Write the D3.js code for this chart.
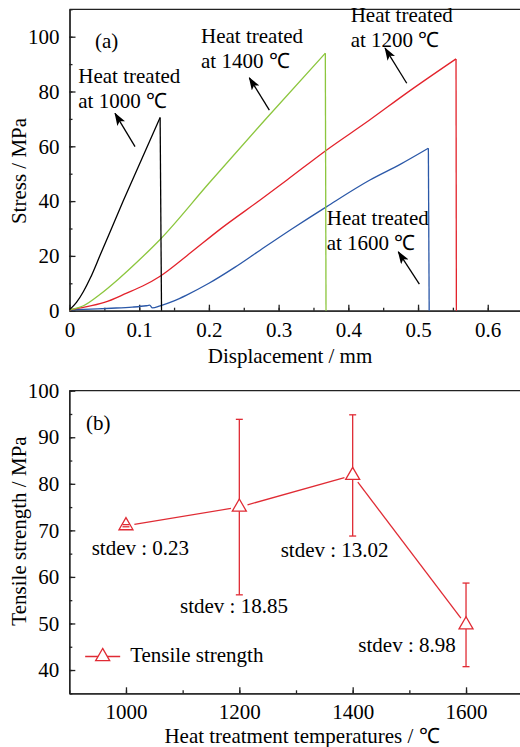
<!DOCTYPE html>
<meta charset="utf-8">
<style>
body { margin: 0; background: #fff; }
svg { display: block; font-family: "Liberation Serif", "Times New Roman", serif; }
.axis path, .axis line { stroke: #222; stroke-width: 1.3; }
.axis text { font-size: 21px; fill: #000; font-family: "Liberation Serif", "Times New Roman", serif; }
.lbl { font-size: 21px; fill: #000; }
</style>
<svg width="520" height="747"></svg>
<script src="https://d3js.org/d3.v7.min.js"></script>
<script>

// (a) stress - displacement curves
var disp1000 = [0, 0.01, 0.02, 0.03, 0.044, 0.077, 0.13],
    stress1000 = [0.3, 3, 7, 12, 20.3, 40, 70.5],
    drop1000 = 0.132;

var disp1400 = [0, 0.02, 0.044, 0.07, 0.1, 0.13, 0.2, 0.28, 0.367],
    stress1400 = [0.3, 1.8, 6, 11.5, 18.5, 26, 46.5, 69.5, 94],
    drop1400 = 0.368;

var disp1200 = [0, 0.02, 0.05, 0.082, 0.105, 0.13, 0.168, 0.22, 0.273, 0.312, 0.368, 0.43, 0.484, 0.5545],
    stress1200 = [0.3, 1.2, 3, 6.4, 9, 12.6, 20, 30.5, 40.3, 47.7, 58.5, 69.5, 79.5, 91.9],
    drop1200 = 0.555;

var disp1600 = [0, 0.03, 0.06, 0.09, 0.11, 0.115, 0.119, 0.13, 0.15, 0.168, 0.2, 0.237, 0.273, 0.32, 0.369, 0.431, 0.475, 0.5148],
    stress1600 = [0.3, 0.6, 0.9, 1.3, 1.8, 2.0, 1.0, 1.8, 3.6, 5.7, 10, 15.8, 22, 30, 38, 47.7, 53.5, 59.3],
    drop1600 = 0.516;

// (b) tensile strength
var temps = [1000, 1200, 1400, 1600],
    strength = [71.0, 75.0, 81.8, 49.7],
    stdev = [0.23, 18.85, 13.02, 8.98];

var xTicksA = [0, 0.1, 0.2, 0.3, 0.4, 0.5, 0.6],
    yTicksA = [0, 20, 40, 60, 80, 100],
    xTicksB = [1000, 1200, 1400, 1600],
    yTicksB = [40, 50, 60, 70, 80, 90, 100];

var svg = d3.select("svg");

var xA = d3.scaleLinear().domain([0, 0.65]).range([69.5, 522.6]),
    yA = d3.scaleLinear().domain([0, 110]).range([310.7, 9.3]);

var xB = d3.scaleLinear().domain([900, 1700]).range([69.3, 522.7]),
    yB = d3.scaleLinear().domain([35, 100]).range([693.3, 390.7]);

svg.append("defs").append("marker")
    .attr("id", "arrow")
    .attr("markerUnits", "userSpaceOnUse")
    .attr("markerWidth", 13).attr("markerHeight", 9)
    .attr("refX", 12).attr("refY", 4.5)
    .attr("orient", "auto")
  .append("path")
    .attr("d", "M0,0L13,4.5L0,9L3,4.5Z")
    .attr("fill", "#000");

function axes(x, y, xt, xm, yt, ym) {
  var x0 = x.range()[0], x1 = x.range()[1], y0 = y.range()[0], y1 = y.range()[1];
  svg.append("g").attr("class", "axis").attr("transform", "translate(0," + y0 + ")")
      .call(d3.axisBottom(x).tickValues(xm).tickSize(-3).tickSizeOuter(0).tickFormat(""));
  svg.append("g").attr("class", "axis").attr("transform", "translate(0," + y0 + ")")
      .call(d3.axisBottom(x).tickValues(xt).tickSize(-6).tickSizeOuter(0).tickPadding(11).tickFormat(function(d) { return d; }));
  svg.append("g").attr("class", "axis").attr("transform", "translate(" + x0 + ",0)")
      .call(d3.axisLeft(y).tickValues(ym).tickSize(-3).tickSizeOuter(0).tickFormat(""));
  svg.append("g").attr("class", "axis").attr("transform", "translate(" + x0 + ",0)")
      .call(d3.axisLeft(y).tickValues(yt).tickSize(-6).tickSizeOuter(0).tickPadding(10));
  svg.append("line")
      .attr("x1", x0).attr("x2", x1).attr("y1", y1).attr("y2", y1)
      .attr("stroke", "#222").attr("stroke-width", 1.3);
}

axes(xA, yA, xTicksA, d3.range(0, 0.651, 0.05), yTicksA, d3.range(0, 111, 10));
axes(xB, yB, xTicksB, d3.range(900, 1701, 100), yTicksB, d3.range(35, 101, 5));

// curves of panel (a)
var curve = d3.line()
    .x(function(d) { return xA(d[0]); })
    .y(function(d) { return yA(d[1]); })
    .curve(d3.curveMonotoneX);

var straight = d3.line()
    .x(function(d) { return xA(d[0]); })
    .y(function(d) { return yA(d[1]); });

var series = [
  {x: disp1600, y: stress1600, drop: drop1600, color: "#2b58a8"},
  {x: disp1200, y: stress1200, drop: drop1200, color: "#e3232c"},
  {x: disp1400, y: stress1400, drop: drop1400, color: "#8cc63e"},
  {x: disp1000, y: stress1000, drop: drop1000, color: "#000000"}
];

series.forEach(function(s) {
  var pts = d3.zip(s.x, s.y),
      last = pts[pts.length - 1];
  svg.append("path")
      .attr("d", curve(pts))
      .attr("fill", "none").attr("stroke", s.color).attr("stroke-width", 1.3);
  svg.append("path")
      .attr("d", straight([last, [s.drop, 0]]))
      .attr("fill", "none").attr("stroke", s.color).attr("stroke-width", 1.3);
});

var notesA = [
  {text: ["Heat treated", "at 1000 \u2103"], at: [0.0126, 83.0], tail: [0.094, 59.9], head: [0.0653, 72.0]},
  {text: ["Heat treated", "at 1400 \u2103"], at: [0.1887, 97.6], tail: [0.2867, 73.2], head: [0.258, 85.0]},
  {text: ["Heat treated", "at 1200 \u2103"], at: [0.4034, 105.5], tail: [0.4838, 83.0], head: [0.4527, 95.8]},
  {text: ["Heat treated", "at 1600 \u2103"], at: [0.369, 31.3], tail: [0.5019, 9.7], head: [0.4717, 21.5]}
];

notesA.forEach(function(n) {
  n.text.forEach(function(t, i) {
    svg.append("text").attr("class", "lbl")
        .attr("x", xA(n.at[0])).attr("y", yA(n.at[1]) + i * 25)
        .text(t);
  });
  svg.append("line")
      .attr("x1", xA(n.tail[0])).attr("y1", yA(n.tail[1]))
      .attr("x2", xA(n.head[0])).attr("y2", yA(n.head[1]))
      .attr("stroke", "#000").attr("stroke-width", 1.3)
      .attr("marker-end", "url(#arrow)");
});

svg.append("text").attr("class", "lbl").attr("x", xA(0.0366)).attr("y", yA(95.9)).text("(a)");

svg.append("text").attr("class", "lbl")
    .attr("x", 290).attr("y", 363)
    .attr("text-anchor", "middle")
    .text("Displacement / mm");

svg.append("text").attr("class", "lbl")
    .attr("transform", "translate(26,171)rotate(-90)")
    .attr("text-anchor", "middle")
    .text("Stress / MPa");

// panel (b)
var red = "#e02b34";
var pts = temps.map(function(t, i) { return [xB(t), yB(strength[i])]; });

// connecting segments stop short of the markers
for (var i = 0; i < pts.length - 1; i++) {
  var a = pts[i], b = pts[i + 1],
      dx = b[0] - a[0], dy = b[1] - a[1],
      len = Math.sqrt(dx * dx + dy * dy), gap = 8.5;
  svg.append("line")
      .attr("x1", a[0] + dx / len * gap).attr("y1", a[1] + dy / len * gap)
      .attr("x2", b[0] - dx / len * gap).attr("y2", b[1] - dy / len * gap)
      .attr("stroke", red).attr("stroke-width", 1.3);
}

temps.forEach(function(t, i) {
  svg.append("line")
      .attr("x1", xB(t)).attr("x2", xB(t))
      .attr("y1", yB(strength[i] - stdev[i])).attr("y2", yB(strength[i] + stdev[i]))
      .attr("stroke", red).attr("stroke-width", 1.3);
});

var tri = d3.symbol(d3.symbolTriangle, 85);

svg.selectAll(".mk").data(pts).enter().append("path")
    .attr("class", "mk")
    .attr("d", tri)
    .attr("transform", function(d) { return "translate(" + d[0] + "," + d[1] + ")"; })
    .attr("fill", "#fff").attr("stroke", red).attr("stroke-width", 1.3);

temps.forEach(function(t, i) {
  [strength[i] - stdev[i], strength[i] + stdev[i]].forEach(function(v) {
    svg.append("line")
        .attr("x1", xB(t) - 3.5).attr("x2", xB(t) + 3.5)
        .attr("y1", yB(v)).attr("y2", yB(v))
        .attr("stroke", red).attr("stroke-width", 1.3);
  });
});

var notesB = [
  {text: "stdev : 0.23", at: [939.5, 64.7]},
  {text: "stdev : 18.85", at: [1095.3, 52.2]},
  {text: "stdev : 13.02", at: [1273, 64.3]},
  {text: "stdev : 8.98", at: [1410, 43.9]}
];

notesB.forEach(function(n) {
  svg.append("text").attr("class", "lbl")
      .attr("x", xB(n.at[0])).attr("y", yB(n.at[1]))
      .text(n.text);
});

svg.append("text").attr("class", "lbl").attr("x", xB(929.5)).attr("y", yB(91.55)).text("(b)");

// legend
var lg = svg.append("g").attr("transform", "translate(" + xB(928) + "," + yB(42.9) + ")");
lg.append("line").attr("x1", 0).attr("x2", 35).attr("stroke", red).attr("stroke-width", 1.3);
lg.append("path").attr("d", tri).attr("transform", "translate(17.5,0)")
    .attr("fill", "#fff").attr("stroke", red).attr("stroke-width", 1.3);
lg.append("text").attr("class", "lbl").attr("x", 45).attr("y", 5).text("Tensile strength");

svg.append("text").attr("class", "lbl")
    .attr("x", 302).attr("y", 743)
    .attr("text-anchor", "middle")
    .text("Heat treatment temperatures / \u2103");

svg.append("text").attr("class", "lbl")
    .attr("transform", "translate(26,531)rotate(-90)")
    .attr("text-anchor", "middle")
    .text("Tensile strength / MPa");

</script>
